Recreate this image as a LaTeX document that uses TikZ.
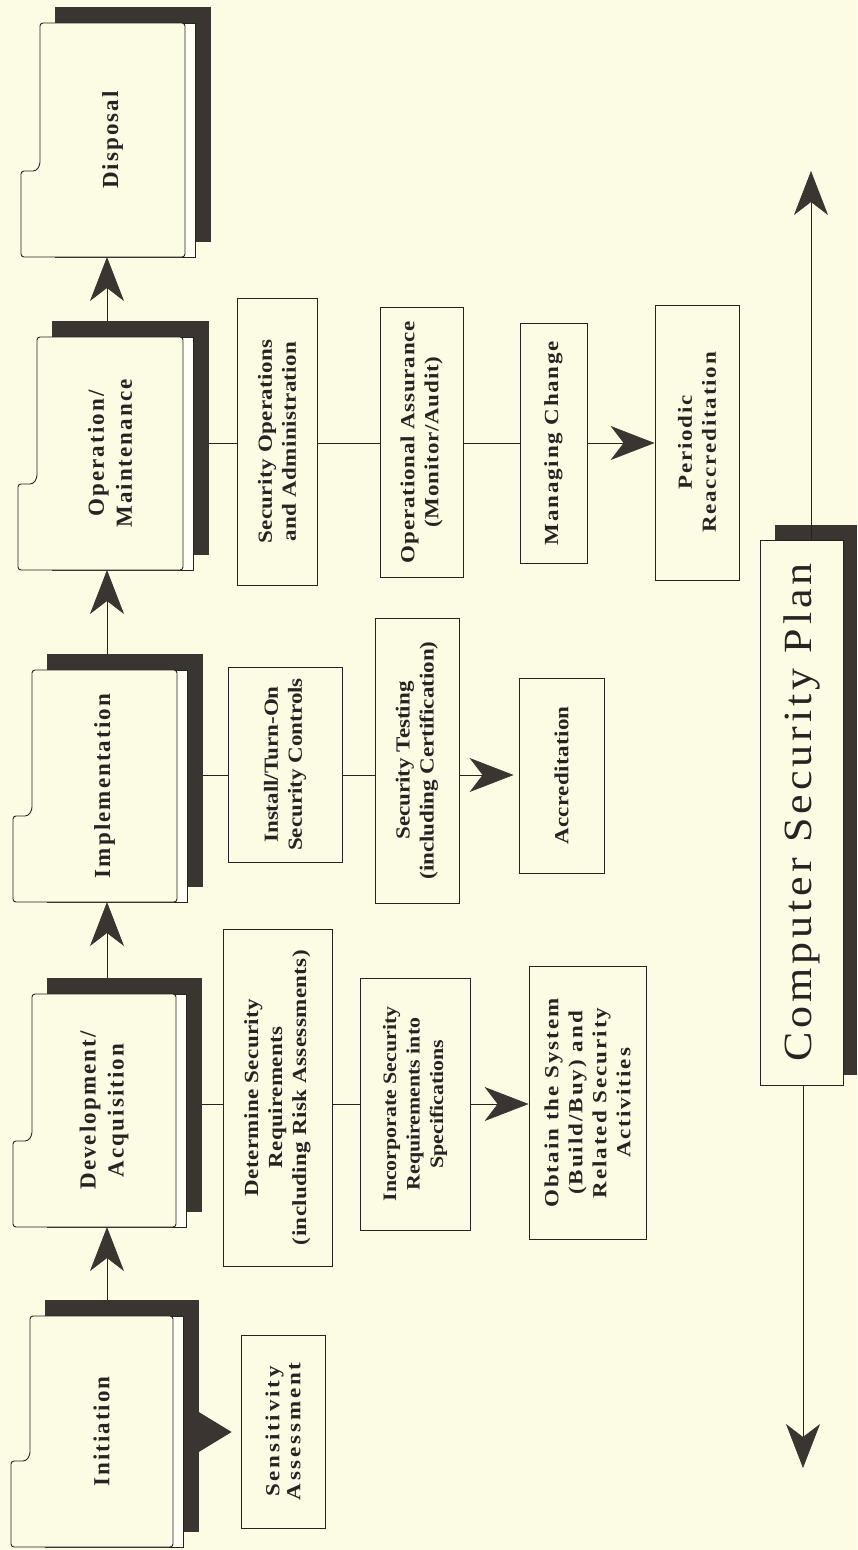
\documentclass[tikz,border=0pt]{standalone}
\usepackage{fontspec}
\usetikzlibrary{arrows.meta}
\newfontfamily\foldfont[UprightFont={Liberation Serif Bold},LetterSpace=9]{Liberation Serif}
\newfontfamily\subfont[UprightFont={Liberation Serif Bold},FakeStretch=1.15]{Liberation Serif}
\newfontfamily\planfont[LetterSpace=10,FakeStretch=1.1]{Liberation Serif}
\definecolor{bg}{RGB}{252,251,228}
\definecolor{ink}{RGB}{38,36,34}
\definecolor{shadowc}{RGB}{58,53,48}
\definecolor{paper}{RGB}{255,255,246}
% name, L, T, R, B, label, connector y
\newcommand\phasefolder[7]{%
  \fill[shadowc] ({#2+15},{#3-16}) rectangle ({#4+26},{#5-15});
  \filldraw[fill=paper,draw=ink,line width=0.6pt] ({#2+15},{#3}) rectangle ({#4+10},{#5});
  \filldraw[fill=bg,draw=ink,line width=0.9pt,rounded corners=3pt]
    ({#4},{#3}) -- ({#4},{#5}) -- ({#2-19},{#5}) -- ({#2-19},{#5-86})
    -- ({#2-4},{#5-86}) -- ({#2},{#5-92}) -- ({#2},{#3}) -- cycle;
  \node[foldlabel] (#1) at ({(#2+#4)/2},{(#3+#5)/2}) {#6};
  \coordinate (#1-out) at ({#4+26},{#7});
  \coordinate (#1-in) at (107,{#5});
  \coordinate (#1-up) at (107,{#3-16});
}
\begin{document}
\begin{tikzpicture}[x=1pt,y=-1pt,
  foldlabel/.style={rotate=90,align=center,text=ink,inner sep=0pt,
    font=\foldfont\fontsize{23}{28}\selectfont},
  subbox/.style={draw=ink,line width=0.8pt,fill=bg,rotate=90,inner sep=0pt,
    align=center,text=ink,
    font=\subfont\addfontfeatures{LetterSpace=#1}\fontsize{20}{24}\selectfont},
  subbox/.default=2,
  planbox/.style={draw=ink,line width=0.8pt,fill=bg,rotate=90,inner sep=0pt,
    align=center,text=ink,font=\planfont\fontsize{40}{44}\selectfont},
  link/.style={draw=ink,line width=0.8pt},
  flow/.style={draw=ink,line width=0.8pt,
    -{Stealth[length=44pt,width=34pt,inset=13pt,color=shadowc]}},
  tri/.style={draw=ink,line width=0.8pt,shorten >=9pt,
    -{Triangle[length=33pt,width=40pt,color=shadowc]}},
]
\fill[bg] (0,0) rectangle (857,1550);
\useasboundingbox (0,0) rectangle (857,1550);

% phase folders
\phasefolder{disp}{40}{23}{185}{257}{Disposal}{140}
\phasefolder{opm}{37}{337}{183}{570}{Operation/\\Maintenance}{443}
\phasefolder{impl}{32}{670}{177}{902}{Implementation}{775}
\phasefolder{dev}{32}{994}{176}{1227}{Development/\\Acquisition}{1104}
\phasefolder{init}{30}{1316}{173}{1547}{Initiation}{1432}

% phase flow
\draw[flow] (init-up) -- (dev-in);
\draw[flow] (dev-up) -- (impl-in);
\draw[flow] (impl-up) -- (opm-in);
\draw[flow] (opm-up) -- (disp-in);

% Initiation
\node[subbox,font=\subfont\addfontfeatures{LetterSpace=14}\fontsize{20}{21}\selectfont,
  minimum width=193,minimum height=84] (sens) at (283,1431.5)
  {Sensitivity\\Assessment};
\draw[tri] (init-out) -- (init-out -| sens.north);

% Development / Acquisition
\node[subbox=2,minimum width=337,minimum height=109] (det) at (277.5,1097.5)
  {Determine Security\\Requirements\\(including Risk Assessments)};
\node[subbox,font=\subfont\fontsize{19}{23.5}\selectfont,
  minimum width=252,minimum height=110] (inc) at (415,1104)
  {Incorporate Security\\Requirements into\\Specifications};
\node[subbox=10,minimum width=273,minimum height=117] (obt) at (587.5,1103)
  {Obtain the System\\(Build/Buy) and\\Related Security\\Activities};
\draw[link] (dev-out) -- (dev-out -| det.north);
\draw[link] (dev-out -| det.south) -- (dev-out -| inc.north);
\draw[flow] (dev-out -| inc.south) -- (dev-out -| obt.north);

% Implementation
\node[subbox=0,minimum width=195,minimum height=114] (inst) at (285,764.5)
  {Install/Turn-On\\Security Controls};
\node[subbox=0,minimum width=285,minimum height=84] (test) at (417,760.5)
  {Security Testing\\(including Certification)};
\node[subbox=2,minimum width=195,minimum height=85] (accr) at (561.5,775.5)
  {Accreditation};
\draw[link] (impl-out) -- (impl-out -| inst.north);
\draw[link] (impl-out -| inst.south) -- (impl-out -| test.north);
\draw[flow,shorten >=5pt] (impl-out -| test.south) -- (impl-out -| accr.north);

% Operation / Maintenance
\node[subbox=2,minimum width=287,minimum height=80] (secop) at (277,441.5)
  {Security Operations\\and Administration};
\node[subbox=4,minimum width=270,minimum height=83] (opas) at (421.5,442)
  {Operational Assurance\\(Monitor/Audit)};
\node[subbox=9,minimum width=240,minimum height=67] (mgmt) at (553.5,443)
  {Managing Change};
\node[subbox=9,minimum width=275,minimum height=84] (peri) at (697,442.5)
  {Periodic\\Reaccreditation};
\draw[link] (opm-out) -- (opm-out -| secop.north);
\draw[link] (opm-out -| secop.south) -- (opm-out -| opas.north);
\draw[link] (opm-out -| opas.south) -- (opm-out -| mgmt.north);
\draw[flow] (opm-out -| mgmt.south) -- (opm-out -| peri.north);

% Computer Security Plan
\fill[shadowc] (775,525) rectangle (857,1075);
\node[planbox,minimum width=545,minimum height=83] (csp) at (801.5,812.5)
  {Computer Security Plan};
\coordinate (upTip) at (811,171);
\coordinate (downTip) at (803,1468);
\draw[flow] (upTip |- csp.east) -- (upTip);
\draw[flow] (downTip |- csp.west) -- (downTip);
\end{tikzpicture}
\end{document}
